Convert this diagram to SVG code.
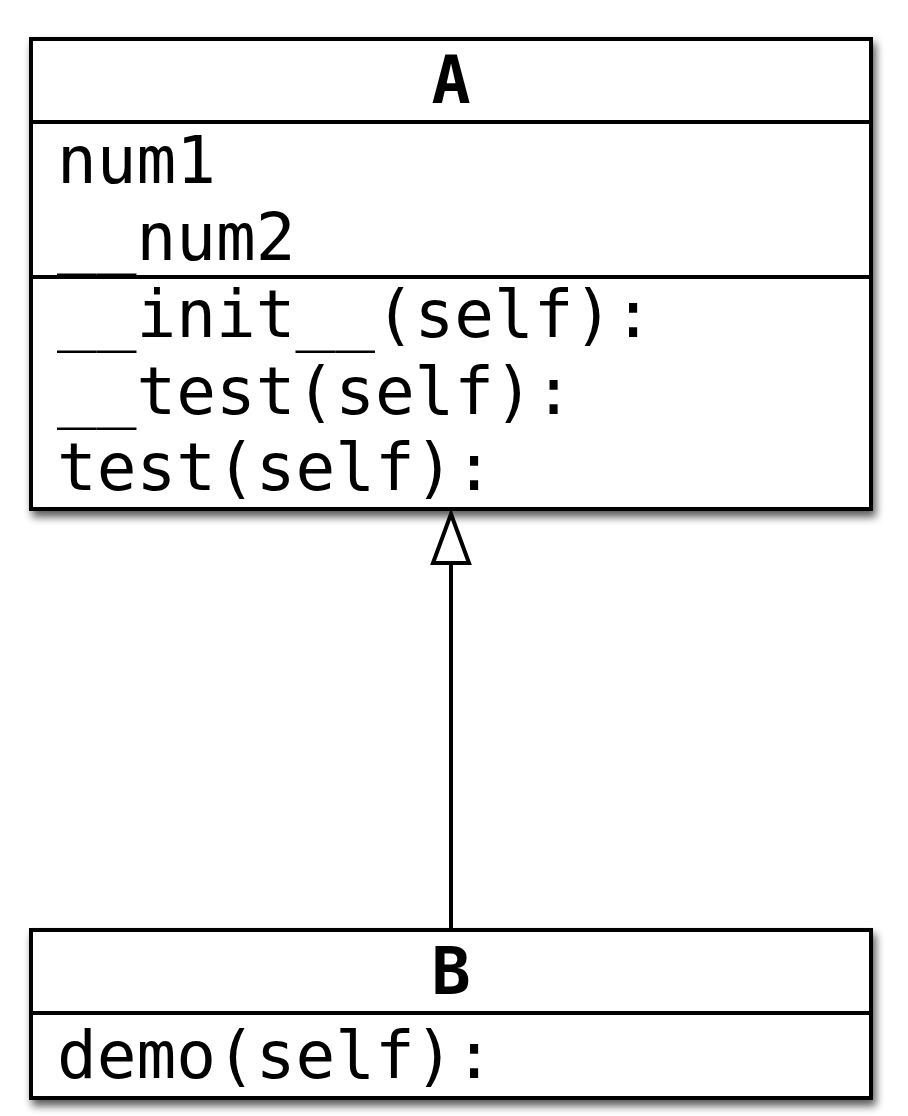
<svg xmlns="http://www.w3.org/2000/svg" width="908" height="1116" viewBox="0 0 908 1116">
  <style>
    .box { fill: #ffffff; stroke: #000000; stroke-width: 4; }
    .sep { stroke: #000000; stroke-width: 4; }
    .title { font-family: "DejaVu Sans Mono", "Liberation Mono", monospace; font-weight: bold; font-size: 65px; fill: #000000; text-anchor: middle; }
    .member { font-family: "DejaVu Sans Mono", "Liberation Mono", monospace; font-size: 66px; fill: #000000; }
    .edge { stroke: #000000; stroke-width: 4; fill: none; }
  </style>
  <defs>
    <filter id="shadow" x="-5%" y="-5%" width="115%" height="120%">
      <feGaussianBlur in="SourceAlpha" stdDeviation="4"/>
      <feOffset dx="3" dy="6" result="blur"/>
      <feComponentTransfer><feFuncA type="linear" slope="0.65"/></feComponentTransfer>
      <feMerge><feMergeNode/><feMergeNode in="SourceGraphic"/></feMerge>
    </filter>
  </defs>

  <!-- class A -->
  <g id="classA">
    <rect class="box" x="31" y="39" width="840" height="470" filter="url(#shadow)"/>
    <line class="sep" x1="31" y1="122" x2="871" y2="122"/>
    <line class="sep" x1="31" y1="277" x2="871" y2="277"/>
    <text class="title" x="451" y="103">A</text>
    <text class="member" x="57" y="183">num1</text>
    <text class="member" x="57" y="260">__num2</text>
    <text class="member" x="57" y="337">__init__(self):</text>
    <text class="member" x="57" y="414">__test(self):</text>
    <text class="member" x="57" y="490">test(self):</text>
  </g>

  <!-- class B -->
  <g id="classB">
    <rect class="box" x="31" y="930" width="840" height="168" filter="url(#shadow)"/>
    <line class="sep" x1="31" y1="1013" x2="871" y2="1013"/>
    <text class="title" x="451" y="994">B</text>
    <text class="member" x="57" y="1078">demo(self):</text>
  </g>

  <!-- generalisation B -> A -->
  <g id="connectors">
    <path class="edge" d="M451,929 L451,563"/>
    <path d="M451,514 L469,563 L433,563 Z" fill="#ffffff" stroke="#000000" stroke-width="4" stroke-linejoin="miter"/>
  </g>
</svg>
